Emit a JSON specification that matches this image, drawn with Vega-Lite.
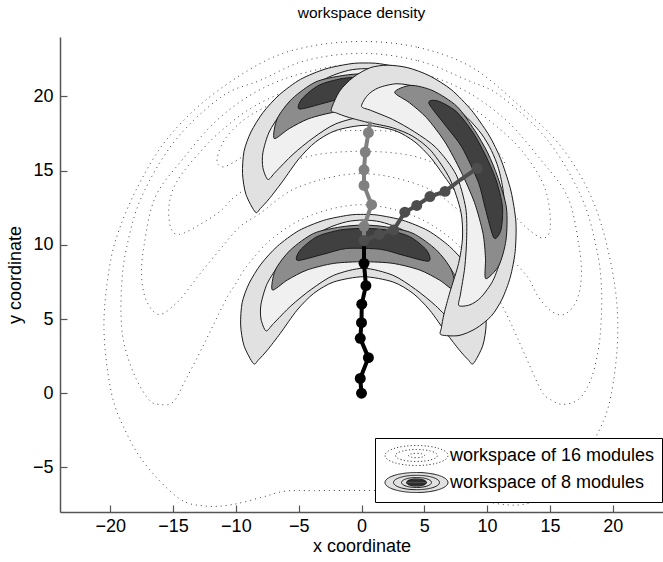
{
  "$schema": "https://vega.github.io/schema/vega-lite/v6.json",
  "width": 603,
  "height": 475,
  "autosize": "none",
  "padding": {"left": 60, "top": 37, "right": 0, "bottom": 50},
  "background": "white",
  "config": {"view": {"stroke": null}, "font": "Liberation Sans"},
  "title": {"text": "workspace density", "fontSize": 15.5, "fontWeight": "normal", "color": "#000", "frame": "group", "anchor": "middle", "offset": 16},
  "datasets": {
    "dotted": [
      {"id": "C1", "ws": "workspace of 16 modules",
       "x": [0,4.5,8.7,12.4,15.9,18.5,20.0,20.4,19.85,18.8,17.0,15.0,12.8,10.5,8.0,5.0,0.75,-3.75,-6.1,-7.9,-10.3,-12.4,-14.5,-17.1,-18.7,-19.9,-20.5,-20.1,-19.3,-17.7,-15.55,-12.4,-8.1,-4.5],
       "y": [23.7,23.3,22.0,19.5,16.6,12.8,8.1,4.0,-0.2,-2.7,-5.0,-6.8,-7.5,-7.4,-6.9,-6.6,-6.55,-6.56,-6.6,-7.0,-7.5,-7.6,-7.1,-4.9,-2.7,0.0,4.3,8.3,11.0,14.1,17.05,19.75,22.2,23.3]},
      {"id": "C2", "ws": "workspace of 16 modules",
       "x": [0,4.5,8.4,11.1,14.8,17.5,18.7,19.1,19.05,18.8,18.25,17.3,16.0,15.0,14.3,12.95,11.9,11.1,10.3,9.0,7.0,4.0,0,-4.0,-7.0,-9.0,-10.0,-10.8,-11.85,-12.9,-14.0,-15.0,-16.1,-16.9,-17.9,-18.7,-19.1,-19.1,-18.7,-17.5,-14.8,-11.1,-8.0,-4.5],
       "y": [22.9,22.4,21.1,20.0,17.06,13.24,9.8,7.2,4.5,2.7,0.9,-0.4,-0.75,-0.4,0.2,2.7,4.7,6.06,7.3,8.7,10.5,12.0,12.7,12.0,10.5,8.7,7.4,6.3,4.5,2.7,0.9,-0.6,-0.75,-0.45,0.9,2.7,4.5,7.2,9.8,13.24,17.06,20.0,21.1,22.4]},
      {"id": "C3", "ws": "workspace of 16 modules",
       "x": [0,4.5,8.2,11.5,14.2,16.4,17.3,17.5,17.1,16.1,15.0,14.0,13.2,11.3,9.7,8.1,5.0,0,-5.0,-8.1,-9.7,-11.3,-12.9,-13.8,-14.75,-16.1,-17.1,-17.5,-17.3,-16.4,-14.2,-11.5,-8.2,-4.5],
       "y": [22.2,21.6,20.4,18.4,15.8,13.24,10.0,7.85,6.2,5.3,5.6,6.6,7.85,9.65,11.2,12.1,13.9,14.8,13.9,12.1,11.2,9.65,8.0,7.0,6.06,5.3,6.2,7.85,10.0,13.24,15.8,18.4,20.4,21.6]},
      {"id": "C4", "ws": "workspace of 16 modules",
       "x": [0,4.5,8.4,11.0,12.8,14.3,14.9,15.0,14.4,13.2,12.2,10.0,7.0,4.0,0,-4.0,-7.0,-10.0,-11.2,-12.8,-14.5,-15.2,-15.3,-14.6,-12.8,-11.0,-8.4,-4.5],
       "y": [21.5,20.8,19.4,17.8,16.3,14.4,12.8,11.0,10.45,11.1,11.9,13.3,15.0,16.0,16.3,16.0,15.0,13.3,12.3,11.4,10.7,11.2,12.8,14.4,16.3,17.8,19.4,20.8]},
      {"id": "C5", "ws": "workspace of 16 modules",
       "x": [0,5.0,8.5,10.8,11.4,11.1,10.3,8.0,4.0,0,-4.0,-8.0,-10.3,-11.05,-11.5,-11.2,-10.3,-8.5,-5.0],
       "y": [20.9,20.0,18.2,16.3,15.5,15.2,15.5,16.6,17.5,17.7,17.5,16.6,15.5,15.25,15.6,16.6,17.7,18.9,20.2]}
    ],
    "crescents": [
      {"id": "UC1", "lev": "1", "ws": "workspace of 8 modules",
       "x": [-8.45,-9.2,-9.47,-9.35,-8.8,-7.85,-6.55,-4.85,-2.85,-0.85,0.3,1.45,3.45,5.45,7.15,8.45,9.4,9.95,10.07,9.8,9.05,8.65,7.95,6.91,5.58,4.25,2.65,0.3,-2.05,-3.65,-4.98,-6.31,-7.35,-8.05],
       "y": [12.2,13.4,14.8,16.3,17.6,18.9,20.1,21.15,21.85,22.2,22.25,22.2,21.85,21.15,20.1,18.9,17.6,16.3,14.8,13.4,12.2,12.45,13.1,14.24,15.8,16.93,17.7,18.05,17.7,16.93,15.8,14.24,13.1,12.45]},
      {"id": "UC2", "lev": "2", "ws": "workspace of 8 modules",
       "x": [-7.45,-7.85,-7.85,-7.35,-6.31,-4.72,-2.59,-1.05,0.3,1.65,3.19,5.32,6.91,7.95,8.45,8.45,8.05,7.45,6.05,4.45,2.65,0.3,-2.05,-3.85,-5.45,-6.85],
       "y": [14.4,15.2,16.2,17.6,18.95,20.3,21.3,21.75,21.87,21.75,21.3,20.3,18.95,17.6,16.2,15.2,14.4,14.9,16.1,17.2,18.15,18.62,18.15,17.2,16.1,14.9]},
      {"id": "UC3", "lev": "3", "ws": "workspace of 8 modules",
       "x": [-6.95,-6.71,-5.51,-3.65,-1.54,0.3,2.15,4.25,6.11,7.31,7.55,6.35,4.79,2.65,0.3,-2.05,-4.19,-5.75],
       "y": [17.16,18.5,19.85,20.97,21.4,21.53,21.4,20.97,19.85,18.5,17.16,17.83,18.5,18.95,19.06,18.95,18.5,17.83]},
      {"id": "UC4", "lev": "4", "ws": "workspace of 8 modules",
       "x": [-4.95,-4.72,-3.39,-1.54,0.3,2.15,3.99,5.32,5.5,3.45,1.65,-1.05,-2.95],
       "y": [19.15,19.85,20.75,21.2,21.3,21.2,20.75,19.85,19.1,19.5,19.9,19.95,19.55]},
      {"id": "LC1", "lev": "1", "ws": "workspace of 8 modules",
       "x": [-8.6,-9.35,-9.62,-9.5,-8.95,-8.0,-6.7,-5.0,-3.0,-1.0,0.15,1.3,3.3,5.3,7.0,8.3,9.25,9.8,9.92,9.65,8.9,8.5,7.8,6.76,5.43,4.1,2.5,0.15,-2.2,-3.8,-5.13,-6.46,-7.5,-8.2],
       "y": [2.0,3.2,4.6,6.1,7.4,8.7,9.9,10.95,11.65,12.0,12.05,12.0,11.65,10.95,9.9,8.7,7.4,6.1,4.6,3.2,2.0,2.25,2.9,4.04,5.6,6.73,7.5,7.85,7.5,6.73,5.6,4.04,2.9,2.25]},
      {"id": "LC2", "lev": "2", "ws": "workspace of 8 modules",
       "x": [-7.6,-8.0,-8.0,-7.5,-6.46,-4.87,-2.74,-1.2,0.15,1.5,3.04,5.17,6.76,7.8,8.3,8.3,7.9,7.3,5.9,4.3,2.5,0.15,-2.2,-4.0,-5.6,-7.0],
       "y": [4.2,5.0,6.0,7.4,8.75,10.1,11.1,11.55,11.67,11.55,11.1,10.1,8.75,7.4,6.0,5.0,4.2,4.7,5.9,7.0,7.95,8.42,7.95,7.0,5.9,4.7]},
      {"id": "LC3", "lev": "3", "ws": "workspace of 8 modules",
       "x": [-7.1,-6.86,-5.66,-3.8,-1.69,0.15,2.0,4.1,5.96,7.16,7.4,6.2,4.64,2.5,0.15,-2.2,-4.34,-5.9],
       "y": [6.96,8.3,9.65,10.77,11.2,11.33,11.2,10.77,9.65,8.3,6.96,7.63,8.3,8.75,8.86,8.75,8.3,7.63]},
      {"id": "LC4", "lev": "4", "ws": "workspace of 8 modules",
       "x": [-5.1,-4.87,-3.54,-1.69,0.15,2.0,3.84,5.17,5.35,3.3,1.5,-1.2,-3.1],
       "y": [8.95,9.65,10.55,11.0,11.1,11.0,10.55,9.65,8.9,9.3,9.7,9.75,9.35]},
      {"id": "RC1", "lev": "1", "ws": "workspace of 8 modules",
       "x": [-2.41,-1.74,-0.67,0.69,2.09,3.69,5.38,7.14,8.75,10.05,10.67,11.2,11.9,12.29,12.23,11.84,11.19,10.34,9.1,7.76,6.34,6.36,6.57,7.04,7.73,8.04,7.91,7.03,5.56,4.09,2.45,0.43,-1.08,-1.99],
       "y": [19.1,20.35,21.28,21.93,22.1,21.93,21.4,20.46,19.07,17.52,16.55,15.52,13.62,11.54,9.54,7.81,6.34,5.21,4.36,3.89,3.94,4.41,5.35,6.82,8.75,10.46,12.24,14.45,16.31,17.31,17.89,18.26,18.6,18.88]},
      {"id": "RC2", "lev": "2", "ws": "workspace of 8 modules",
       "x": [0.0,0.49,1.36,2.82,4.51,6.47,8.4,9.56,10.34,10.91,11.29,11.49,11.12,10.47,9.51,8.64,7.75,7.88,8.22,8.37,8.3,7.53,5.95,4.22,2.47,0.73],
       "y": [19.33,20.08,20.58,20.85,20.62,19.92,18.57,17.46,16.36,15.13,13.57,11.22,9.17,7.6,6.46,5.96,5.91,6.68,8.49,10.43,12.46,14.73,16.53,17.61,18.45,19.06]},
      {"id": "RC3", "lev": "3", "ws": "workspace of 8 modules",
       "x": [2.64,3.92,5.69,7.59,9.01,10.05,10.86,11.54,11.5,10.93,9.89,9.87,9.67,8.99,7.91,6.64,5.18,3.82],
       "y": [20.28,20.74,20.38,19.33,17.71,16.19,14.52,12.48,10.31,8.6,7.72,9.1,10.78,12.86,14.95,16.93,18.56,19.57]},
      {"id": "RC4", "lev": "4", "ws": "workspace of 8 modules",
       "x": [5.36,6.08,7.53,8.84,9.85,10.69,11.22,11.1,10.54,9.86,9.31,8.0,6.71],
       "y": [19.54,19.69,18.99,17.61,16.07,14.42,12.6,11.0,10.47,12.44,14.2,16.56,18.01]}
    ],
    "chains": [
      {"chain": "gray", "x": 0.2, "y": 10.3},
      {"chain": "gray", "x": 0.2, "y": 11.25},
      {"chain": "gray", "x": 0.8, "y": 12.7},
      {"chain": "gray", "x": 0.2, "y": 14.0},
      {"chain": "gray", "x": 0.2, "y": 15.05},
      {"chain": "gray", "x": 0.3, "y": 16.25},
      {"chain": "gray", "x": 0.55, "y": 17.55},
      {"chain": "gray", "x": 0.7, "y": 18.3},
      {"chain": "darkgray", "x": 0.2, "y": 10.3},
      {"chain": "darkgray", "x": 1.4, "y": 10.7},
      {"chain": "darkgray", "x": 2.55, "y": 11.0},
      {"chain": "darkgray", "x": 3.45, "y": 12.2},
      {"chain": "darkgray", "x": 4.4, "y": 12.65},
      {"chain": "darkgray", "x": 5.45, "y": 13.25},
      {"chain": "darkgray", "x": 6.65, "y": 13.6},
      {"chain": "darkgray", "x": 7.9, "y": 14.4},
      {"chain": "darkgray", "x": 9.2, "y": 15.15},
      {"chain": "black", "x": 0.0, "y": 0.0},
      {"chain": "black", "x": -0.1, "y": 1.0},
      {"chain": "black", "x": 0.55, "y": 2.4},
      {"chain": "black", "x": -0.1, "y": 3.7},
      {"chain": "black", "x": 0.0, "y": 4.75},
      {"chain": "black", "x": 0.02, "y": 6.0},
      {"chain": "black", "x": 0.35, "y": 7.25},
      {"chain": "black", "x": 0.2, "y": 8.75},
      {"chain": "black", "x": 0.2, "y": 9.9}
    ],
    "joints": [
      {"chain": "gray", "x": 0.2, "y": 11.25},
      {"chain": "gray", "x": 0.8, "y": 12.7},
      {"chain": "gray", "x": 0.2, "y": 14.0},
      {"chain": "gray", "x": 0.2, "y": 15.05},
      {"chain": "gray", "x": 0.3, "y": 16.25},
      {"chain": "gray", "x": 0.55, "y": 17.55},
      {"chain": "darkgray", "x": 0.2, "y": 10.3},
      {"chain": "darkgray", "x": 1.4, "y": 10.7},
      {"chain": "darkgray", "x": 2.55, "y": 11.0},
      {"chain": "darkgray", "x": 3.45, "y": 12.2},
      {"chain": "darkgray", "x": 4.4, "y": 12.65},
      {"chain": "darkgray", "x": 5.45, "y": 13.25},
      {"chain": "darkgray", "x": 6.65, "y": 13.6},
      {"chain": "darkgray", "x": 9.2, "y": 15.15},
      {"chain": "black", "x": 0.0, "y": 0.0},
      {"chain": "black", "x": -0.1, "y": 1.0},
      {"chain": "black", "x": 0.55, "y": 2.4},
      {"chain": "black", "x": -0.1, "y": 3.7},
      {"chain": "black", "x": 0.0, "y": 4.75},
      {"chain": "black", "x": 0.02, "y": 6.0},
      {"chain": "black", "x": 0.35, "y": 7.25},
      {"chain": "black", "x": 0.2, "y": 8.75}
    ]
  },
  "encoding": {
    "x": {"field": "x", "type": "quantitative", "title": "x coordinate",
      "scale": {"domain": [-24, 24], "nice": false, "zero": false},
      "axis": {"values": [-20,-15,-10,-5,0,5,10,15,20], "tickSize": -7, "labelPadding": 12, "domainColor": "#555", "domainWidth": 1.5, "tickColor": "#555", "tickWidth": 1.2, "labelFontSize": 18, "labelColor": "#000", "titleFontSize": 18, "titleFontWeight": "normal", "titleColor": "#000", "titlePadding": 2, "grid": false, "labelFlush": false, "labelOverlap": false}},
    "y": {"field": "y", "type": "quantitative", "title": "y coordinate",
      "scale": {"domain": [-8, 24], "nice": false, "zero": false},
      "axis": {"values": [-5,0,5,10,15,20], "tickSize": -7, "labelPadding": 14, "domainColor": "#555", "domainWidth": 1.5, "tickColor": "#555", "tickWidth": 1.2, "labelFontSize": 18, "labelColor": "#000", "titleFontSize": 18, "titleFontWeight": "normal", "titleColor": "#000", "titlePadding": 8, "grid": false, "labelFlush": false, "labelOverlap": false}}
  },
  "layer": [
    {
      "data": {"name": "dotted"},
      "transform": [{"flatten": ["x", "y"]}],
      "mark": {"type": "line", "interpolate": "cardinal-closed", "strokeWidth": 1, "strokeDash": [1, 4]},
      "encoding": {
        "detail": {"field": "id"},
        "order": {"value": null},
        "stroke": {"field": "ws", "type": "nominal",
          "scale": {"domain": ["workspace of 16 modules", "workspace of 8 modules"], "range": ["#444444", "#1a1a1a"]},
          "legend": {
            "title": null, "orient": "none", "legendX": 315, "legendY": 401,
            "strokeColor": "#000", "fillColor": "#fff", "padding": 7,
            "symbolSize": 400, "symbolOffset": 24, "labelOffset": 23,
            "labelFontSize": 18, "labelColor": "#000", "labelLimit": 0, "rowPadding": 2,
            "encode": {"symbols": {"update": {
              "shape": {"signal": "datum.value == 'workspace of 16 modules' ? 'M-3.15,0A3.15,1 0 1,0 3.15,0A3.15,1 0 1,0 -3.15,0Z M-2.1,0A2.1,0.6 0 1,0 2.1,0A2.1,0.6 0 1,0 -2.1,0Z M-0.8,0A0.8,0.22 0 1,0 0.8,0A0.8,0.22 0 1,0 -0.8,0Z' : 'M-3.15,0A3.15,1 0 1,0 3.15,0A3.15,1 0 1,0 -3.15,0Z M-2.3,0A2.3,0.72 0 1,0 2.3,0A2.3,0.72 0 1,0 -2.3,0Z M-1.5,0A1.5,0.5 0 1,0 1.5,0A1.5,0.5 0 1,0 -1.5,0Z M-1,0A1,0.37 0 1,0 1,0A1,0.37 0 1,0 -1,0Z M-0.585,-0.3L0.585,-0.3M-0.84,-0.2L0.84,-0.2M-0.963,-0.1L0.963,-0.1M-1,0L1,0M-0.963,0.1L0.963,0.1M-0.84,0.2L0.84,0.2M-0.585,0.3L0.585,0.3'"},
              "fill": {"signal": "datum.value == 'workspace of 16 modules' ? 'transparent' : '#e1e1e1'"},
              "stroke": {"signal": "datum.value == 'workspace of 16 modules' ? '#444444' : '#111111'"},
              "strokeDash": {"signal": "datum.value == 'workspace of 16 modules' ? [1.2, 2.2] : [1, 0]"},
              "strokeWidth": {"value": 1},
              "opacity": {"value": 1}
            }}}
          }}
      }
    },
    {
      "data": {"name": "crescents"},
      "transform": [{"flatten": ["x", "y"]}],
      "mark": {"type": "line", "interpolate": "cardinal-closed", "tension": 0.2, "strokeWidth": 1},
      "encoding": {
        "detail": {"field": "id"},
        "order": {"value": null},
        "fill": {"field": "lev", "type": "nominal",
          "scale": {"domain": ["1", "2", "3", "4"], "range": ["#e1e1e1", "#f0f0f0", "#8c8c8c", "#404040"]},
          "legend": null},
        "stroke": {"field": "ws", "type": "nominal"}
      }
    },
    {
      "data": {"name": "chains"},
      "mark": {"type": "line", "strokeWidth": 4},
      "encoding": {
        "order": {"value": null},
        "color": {"field": "chain", "type": "nominal",
          "scale": {"domain": ["black", "darkgray", "gray"], "range": ["#000000", "#4d4d4d", "#808080"]},
          "legend": null}
      }
    },
    {
      "data": {"name": "joints"},
      "mark": {"type": "circle", "size": 120, "opacity": 1},
      "encoding": {
        "color": {"field": "chain", "type": "nominal", "legend": null}
      }
    }
  ]
}
